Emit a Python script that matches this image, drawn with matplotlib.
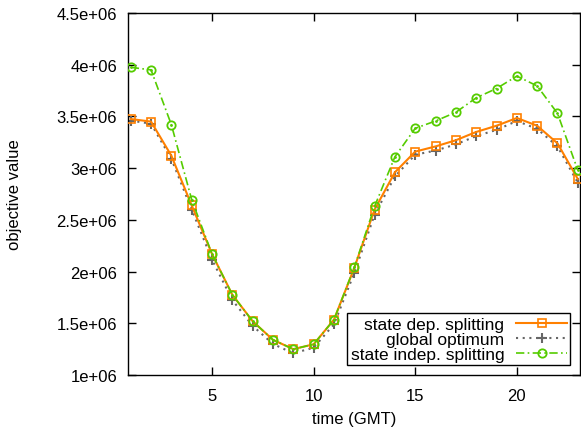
import matplotlib
matplotlib.use('Agg')
import matplotlib.pyplot as plt
from matplotlib.ticker import MultipleLocator, FuncFormatter

plt.rcParams['font.family'] = ['Liberation Sans', 'DejaVu Sans']
plt.rcParams['font.size'] = 12

# hour of day
hours = list(range(1, 24))

# objective values per hour
state_dep = [3.475e6, 3.45e6, 3.12e6, 2.64e6, 2.17e6, 1.776e6, 1.52e6, 1.34e6,
             1.25e6, 1.297e6, 1.535e6, 2.035e6, 2.60e6, 2.96e6, 3.16e6, 3.21e6,
             3.27e6, 3.35e6, 3.41e6, 3.485e6, 3.41e6, 3.24e6, 2.895e6]
global_opt = [3.46e6, 3.43e6, 3.09e6, 2.60e6, 2.115e6, 1.725e6, 1.475e6, 1.30e6,
              1.21e6, 1.264e6, 1.49e6, 1.986e6, 2.55e6, 2.92e6, 3.13e6, 3.17e6,
              3.23e6, 3.31e6, 3.37e6, 3.456e6, 3.38e6, 3.21e6, 2.86e6]
state_indep = [3.975e6, 3.95e6, 3.42e6, 2.695e6, 2.17e6, 1.776e6, 1.52e6, 1.34e6,
               1.25e6, 1.297e6, 1.535e6, 2.04e6, 2.63e6, 3.11e6, 3.385e6, 3.456e6,
               3.54e6, 3.68e6, 3.77e6, 3.89e6, 3.795e6, 3.53e6, 2.98e6]

fig = plt.figure(figsize=(5.81, 4.31), dpi=100)
ax = fig.add_axes([0.2208, 0.1276, 0.7772, 0.8399])

ax.plot(hours, state_dep, color='#ff8000', linewidth=1.5, linestyle='-',
        marker='s', markersize=5.5, markerfacecolor='none', markeredgewidth=1.2,
        label='state dep. splitting', zorder=3)
ax.plot(hours, global_opt, color='#666666', linewidth=1.5, linestyle=(0, (1, 2.2)),
        marker='+', markersize=7, markeredgewidth=1.5,
        label='global optimum', zorder=2)
ax.plot(hours, state_indep, color='#55cc00', linewidth=1.2, linestyle=(0, (5, 2, 1, 2)),
        marker='o', markersize=6, markerfacecolor='none', markeredgewidth=1.3,
        label='state indep. splitting', zorder=4)
# small dot in the middle of the circles
ax.plot(hours, state_indep, color='#55cc00', linestyle='none', marker='.',
        markersize=2, zorder=5)

ax.set_xlim(0.88, 23.1)
ax.set_ylim(1e6, 4.5e6)
ax.xaxis.set_major_locator(MultipleLocator(5))
ax.yaxis.set_major_locator(MultipleLocator(5e5))

def fmt(v, pos):
    return ('%g' % (v / 1e6)) + 'e+06'
ax.yaxis.set_major_formatter(FuncFormatter(fmt))

ax.tick_params(direction='in', top=True, right=True, length=6, width=1, labelsize=12)
ax.tick_params(axis='y', pad=8)
ax.tick_params(axis='x', pad=9)
for s in ax.spines.values():
    s.set_linewidth(1)

ax.set_xlabel('time (GMT)', fontsize=12)
ax.set_ylabel('objective value', fontsize=12)
ax.xaxis.set_label_coords(0.5, -0.1215)
ax.xaxis.label.set_va('center')
ax.yaxis.set_label_coords(-0.251, 0.5)
ax.yaxis.label.set_va('center')

leg = ax.legend(loc='lower right', markerfirst=False, frameon=True, fancybox=False,
                edgecolor='black', framealpha=1, borderpad=0.2, labelspacing=0.0,
                handlelength=2.9, handletextpad=0.7, borderaxespad=0.55, fontsize=12.5)
leg.get_frame().set_linewidth(1)
for t in leg.get_texts():
    t.set_ha('right')
leg._legend_box.align = 'right'

fig.savefig('out.png', dpi=100)
